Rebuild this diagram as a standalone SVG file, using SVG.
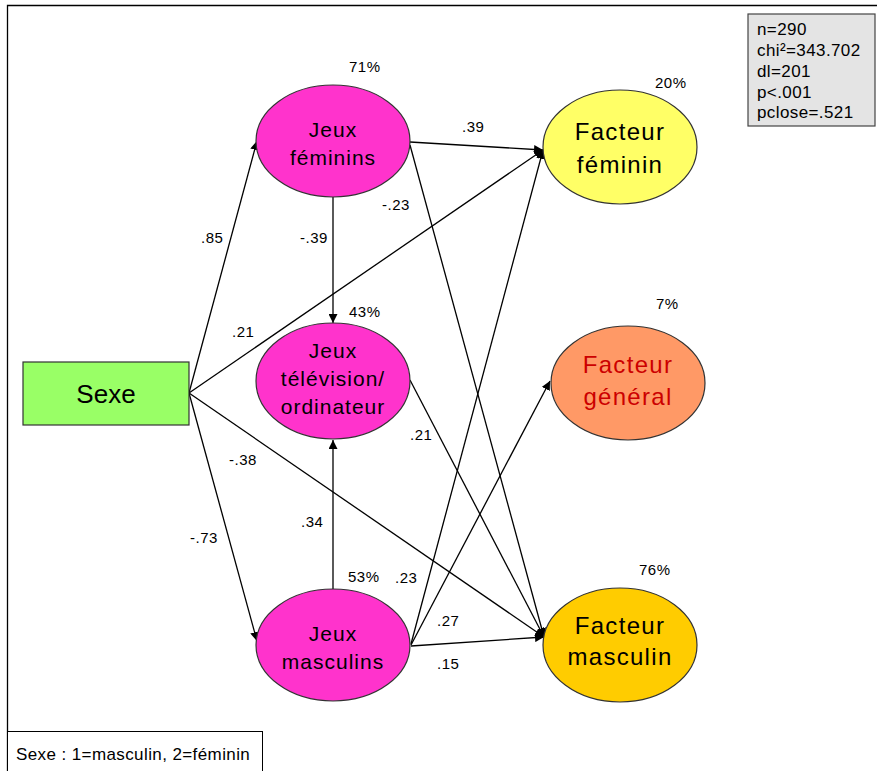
<svg xmlns="http://www.w3.org/2000/svg" width="877" height="771" viewBox="0 0 877 771">
<defs>
<marker id="ah" viewBox="0 0 10 10" refX="10" refY="5" markerWidth="9" markerHeight="9" markerUnits="userSpaceOnUse" orient="auto">
<path d="M0,0 L10,5 L0,10 z" fill="#000"/>
</marker>
<style>
text{font-family:"Liberation Sans",Arial,sans-serif;fill:#000}
.lbl{font-size:15px;letter-spacing:0.5px}
.st{font-size:17px;letter-spacing:0.4px}
.nd{font-size:21px;letter-spacing:1px;text-anchor:middle}
.fc{font-size:24px;letter-spacing:1.3px;text-anchor:middle}
.node{stroke:#333;stroke-width:1.2}
.e line{stroke:#000;stroke-width:1.3;marker-end:url(#ah)}
</style>
</defs>
<rect width="877" height="771" fill="#fff"/>
<path d="M7.5,771 V5.5 H877" fill="none" stroke="#000" stroke-width="1.3"/>
<g id="stats">
<rect x="748" y="14" width="127" height="112" fill="#e4e4e4" stroke="#444" stroke-width="1.2"/>
<text class="st" x="757" y="35">n=290</text>
<text class="st" x="757" y="56">chi²=343.702</text>
<text class="st" x="757" y="77">dl=201</text>
<text class="st" x="757" y="98">p&lt;.001</text>
<text class="st" x="757" y="118">pclose=.521</text>
</g>
<g id="legend">
<rect x="7.5" y="731.5" width="255" height="45" fill="#fff" stroke="#000" stroke-width="1"/>
<text class="st" x="16" y="760">Sexe : 1=masculin, 2=féminin</text>
</g>
<g id="connectors" class="e">
<line x1="189" y1="393" x2="257" y2="141"/>
<line x1="189" y1="393" x2="543" y2="150"/>
<line x1="189" y1="393" x2="544" y2="637"/>
<line x1="189" y1="393" x2="257" y2="641"/>
<line x1="333" y1="197" x2="333" y2="323"/>
<line x1="410" y1="142" x2="543" y2="150"/>
<line x1="410" y1="145" x2="544" y2="637"/>
<line x1="333" y1="590" x2="333" y2="440"/>
<line x1="410" y1="380" x2="544" y2="637"/>
<line x1="411" y1="644" x2="543" y2="150"/>
<line x1="411" y1="645" x2="550" y2="381"/>
<line x1="411" y1="646" x2="544" y2="637"/>
</g>
<g id="labels">
<text class="lbl" x="201" y="243">.85</text>
<text class="lbl" x="232" y="337">.21</text>
<text class="lbl" x="229" y="465">-.38</text>
<text class="lbl" x="190" y="543">-.73</text>
<text class="lbl" x="300" y="243">-.39</text>
<text class="lbl" x="462" y="132">.39</text>
<text class="lbl" x="382" y="210">-.23</text>
<text class="lbl" x="301" y="527">.34</text>
<text class="lbl" x="410" y="440">.21</text>
<text class="lbl" x="395" y="583">.23</text>
<text class="lbl" x="437" y="626">.27</text>
<text class="lbl" x="437" y="669">.15</text>
</g>
<g id="sexe">
<rect x="23" y="362" width="166" height="63" fill="#99ff66" class="node"/>
<text x="106" y="403" text-anchor="middle" font-size="26">Sexe</text>
</g>
<g id="jeux-feminins">
<ellipse cx="333" cy="141" rx="77" ry="56" fill="#ff33cc" class="node"/>
<text class="nd" x="333" y="137">Jeux</text>
<text class="nd" x="333" y="165">féminins</text>
<text class="lbl" x="349" y="72">71%</text>
</g>
<g id="jeux-television">
<ellipse cx="333" cy="381" rx="77" ry="58" fill="#ff33cc" class="node"/>
<text class="nd" x="333" y="358">Jeux</text>
<text class="nd" x="333" y="386">télévision/</text>
<text class="nd" x="333" y="414">ordinateur</text>
<text class="lbl" x="349" y="317">43%</text>
</g>
<g id="jeux-masculins">
<ellipse cx="333" cy="645" rx="77" ry="56" fill="#ff33cc" class="node"/>
<text class="nd" x="333" y="641">Jeux</text>
<text class="nd" x="333" y="669">masculins</text>
<text class="lbl" x="348" y="582">53%</text>
</g>
<g id="facteur-feminin">
<ellipse cx="620" cy="147" rx="77" ry="57" fill="#ffff66" class="node"/>
<text class="fc" x="620" y="140">Facteur</text>
<text class="fc" x="620" y="173">féminin</text>
<text class="lbl" x="655" y="88">20%</text>
</g>
<g id="facteur-general">
<ellipse cx="628" cy="383" rx="77" ry="57" fill="#ff9966" class="node"/>
<text class="fc" x="628" y="373" style="fill:#cc0000">Facteur</text>
<text class="fc" x="628" y="405" style="fill:#cc0000">général</text>
<text class="lbl" x="656" y="309">7%</text>
</g>
<g id="facteur-masculin">
<ellipse cx="620" cy="645" rx="77" ry="57" fill="#ffcc00" class="node"/>
<text class="fc" x="620" y="634">Facteur</text>
<text class="fc" x="620" y="665">masculin</text>
<text class="lbl" x="639" y="575">76%</text>
</g>
</svg>
